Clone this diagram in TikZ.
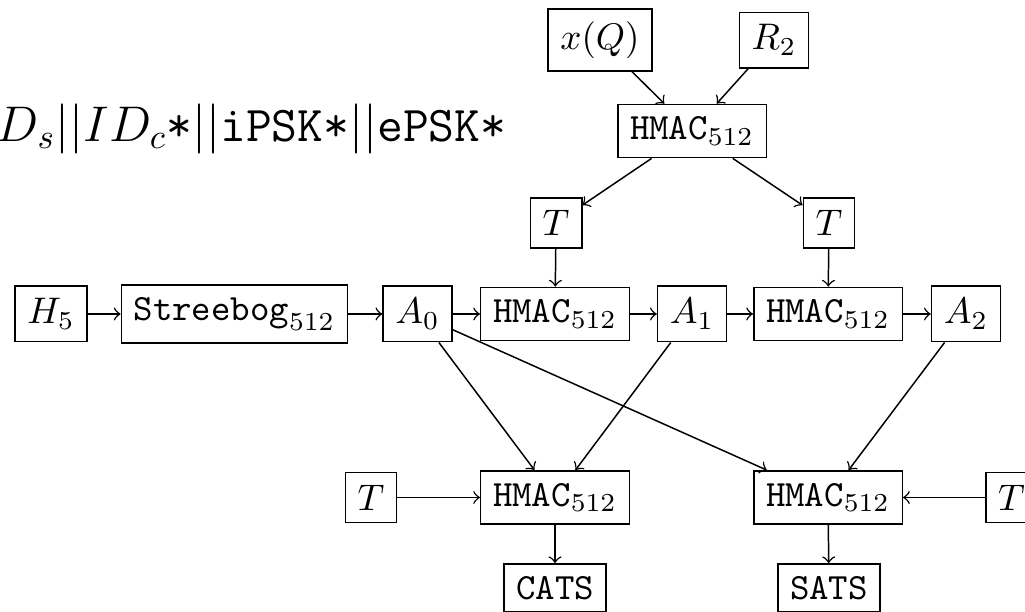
\documentclass[tikz,border=0pt]{standalone}
\usepackage{amsmath}
\usetikzlibrary{positioning,arrows.meta}
\tikzset{blk/.style={draw,inner sep=3.33pt}}

\begin{document}
\begin{tikzpicture}[x=1cm,y=1cm,>=to]
\useasboundingbox (0,0) rectangle (9.731,-5.810);
\clip (0,0) rectangle (9.731,-5.810);
% key input
\node[blk] (xq) at (5.696,-0.380) {$x(Q)$};
\node[blk] (r2) at (7.348,-0.380) {$R_2$};
\node[blk] (hk) at (6.570,-1.244) {$\texttt{HMAC}_{512}$};
\node[anchor=base east,font=\Large,scale=0.94,transform shape,inner xsep=0pt] (msg) at (4.813,-1.339) {$ID_s||ID_c\texttt{*}||\texttt{iPSK*}||\texttt{ePSK*}$};
\node[blk] (t1) at (5.279,-2.117) {$T$};
\node[blk] (t2) at (7.870,-2.117) {$T$};
% main chain
\node[blk] (h5) at (0.484,-2.981) {$H_5$};
\node[blk] (sb) at (2.226,-2.981) {$\texttt{Streebog}_{512}$};
\node[blk] (a0) at (3.964,-2.981) {$A_0$};
\node[blk] (hm1) at (5.269,-2.981) {$\texttt{HMAC}_{512}$};
\node[blk] (a1) at (6.570,-2.981) {$A_1$};
\node[blk] (hm2) at (7.861,-2.981) {$\texttt{HMAC}_{512}$};
\node[blk] (a2) at (9.171,-2.981) {$A_2$};
% traffic secrets
\node[blk] (t3) at (3.522,-4.723) {$T$};
\node[blk] (hc) at (5.269,-4.723) {$\texttt{HMAC}_{512}$};
\node[blk] (hs) at (7.861,-4.723) {$\texttt{HMAC}_{512}$};
\node[blk] (t4) at (9.603,-4.723) {$T$};
\node[blk] (cats) at (5.269,-5.582) {$\texttt{CATS}$};
\node[blk] (sats) at (7.870,-5.582) {$\texttt{SATS}$};

\draw[->] (xq) -- (hk);
\draw[->] (r2) -- (hk);
\draw[->] (hk) -- (t1);
\draw[->] (hk) -- (t2);
\draw[->] (t1) -- (hm1);
\draw[->] (t2) -- (hm2);
\draw[->] (h5) -- (sb);
\draw[->] (sb) -- (a0);
\draw[->] (a0) -- (hm1);
\draw[->] (hm1) -- (a1);
\draw[->] (a1) -- (hm2);
\draw[->] (hm2) -- (a2);
\draw[->] (a0) -- (hc);
\draw[->] (a1) -- (hc);
\draw[->] (a0) -- (hs);
\draw[->] (a2) -- (hs);
\draw[->] (t3) -- (hc);
\draw[->] (t4) -- (hs);
\draw[->] (hc) -- (cats);
\draw[->] (hs) -- (sats);
\end{tikzpicture}
\end{document}
